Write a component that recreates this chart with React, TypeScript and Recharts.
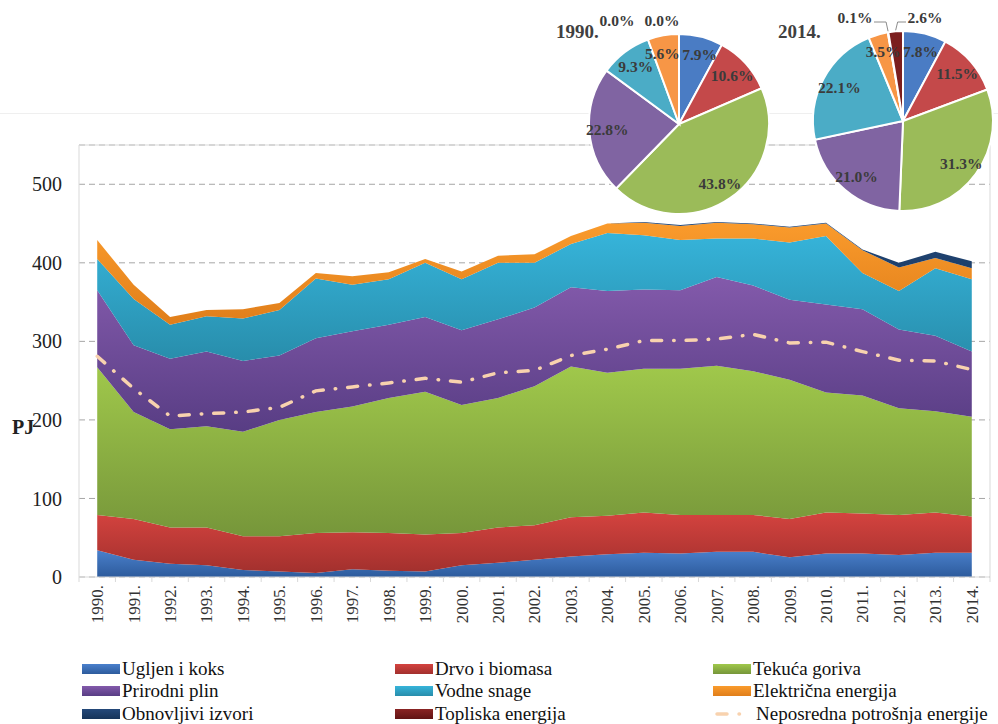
import React from "react";
import {
  ComposedChart,
  Area,
  Line,
  XAxis,
  YAxis,
  CartesianGrid,
  ReferenceLine,
  PieChart,
  Pie,
  Cell,
} from "recharts";

const years = [
  "1990.", "1991.", "1992.", "1993.", "1994.", "1995.", "1996.", "1997.", "1998.",
  "1999.", "2000.", "2001.", "2002.", "2003.", "2004.", "2005.", "2006.", "2007.",
  "2008.", "2009.", "2010.", "2011.", "2012.", "2013.", "2014.",
];

// PJ po izvoru
const ugljen = [34, 22, 17, 15, 9, 7, 5, 10, 8, 7, 15, 18, 22, 26, 29, 31, 30, 32, 32, 25, 30, 30, 28, 31, 31];
const drvo = [45, 52, 46, 48, 43, 45, 51, 47, 48, 47, 41, 45, 44, 50, 49, 51, 49, 47, 47, 49, 52, 51, 51, 51, 46];
const tekuca = [188, 136, 125, 129, 133, 148, 154, 160, 172, 182, 163, 165, 177, 192, 182, 183, 186, 190, 183, 177, 153, 150, 136, 129, 127];
const plin = [98, 85, 90, 95, 90, 82, 94, 96, 93, 95, 95, 100, 100, 101, 104, 101, 100, 113, 109, 102, 112, 110, 100, 96, 83];
const vodne = [40, 59, 43, 45, 54, 58, 76, 59, 58, 69, 65, 72, 57, 55, 74, 69, 64, 49, 60, 73, 87, 46, 49, 86, 92];
const elektricna = [24, 18, 10, 8, 12, 9, 7, 11, 9, 5, 10, 9, 11, 10, 12, 16, 18, 20, 18, 19, 16, 29, 30, 13, 14];
const obnovljivi = [0, 0, 0, 0, 0, 0, 0, 0, 0, 0, 0, 0, 0, 0, 0, 1, 1, 1, 1, 1, 1, 1, 6, 8, 9];
const topliska = [0, 0, 0, 0, 0, 0, 0, 0, 0, 0, 0, 0, 0, 0, 0, 0, 0, 0, 0, 0, 0, 0, 0, 0, 0];
const neposredna = [281, 240, 205, 208, 210, 216, 237, 242, 247, 253, 248, 260, 263, 282, 290, 301, 301, 303, 309, 298, 299, 287, 276, 275, 264];

const yTicks = [0, 100, 200, 300, 400, 500];

// udjeli (%) za pite
const pie1990 = [7.9, 10.6, 43.8, 22.8, 9.3, 5.6, 0.0, 0.0];
const pie2014 = [7.8, 11.5, 31.3, 21.0, 22.1, 3.5, 0.1, 2.6];

const series = [
  { key: "ugljen", name: "Ugljen i koks", top: "#4a80cc", bottom: "#2d5b9c" },
  { key: "drvo", name: "Drvo i biomasa", top: "#d4433f", bottom: "#a2302d" },
  { key: "tekuca", name: "Tekuća goriva", top: "#a0c84b", bottom: "#76963a" },
  { key: "plin", name: "Prirodni plin", top: "#835aab", bottom: "#583d84" },
  { key: "vodne", name: "Vodne snage", top: "#36b4da", bottom: "#288dab" },
  { key: "elektricna", name: "Električna energija", top: "#fa9b2c", bottom: "#e07e1a" },
  { key: "obnovljivi", name: "Obnovljivi izvori", top: "#24497a", bottom: "#163459" },
  { key: "topliska", name: "Topliska energija", top: "#8a2424", bottom: "#611414" },
];
const pieColors = ["#4a7cc4", "#c4494a", "#9bbb59", "#8064a2", "#4bacc6", "#f79646", "#1f497d", "#7b1e1e"];
const lineColor = "#f8d2ae";

const data = years.map((year, i) => ({
  year,
  ugljen: ugljen[i],
  drvo: drvo[i],
  tekuca: tekuca[i],
  plin: plin[i],
  vodne: vodne[i],
  elektricna: elektricna[i],
  obnovljivi: obnovljivi[i],
  topliska: topliska[i],
  neposredna: neposredna[i],
}));

const FONT = '"Liberation Serif", "Times New Roman", serif';
const BAND = 911 / 25;
const RAD = Math.PI / 180;

const YearTick = (props: any) => {
  const { x, y, payload, index } = props;
  const half = BAND / 2;
  return (
    <g>
      <line x1={x - half} x2={x - half} y1={y - 8} y2={y - 3} stroke="#d9d9d9" />
      {index === years.length - 1 && (
        <line x1={x + half} x2={x + half} y1={y - 8} y2={y - 3} stroke="#d9d9d9" />
      )}
      <text
        x={x}
        y={y}
        transform={`rotate(-90 ${x} ${y})`}
        textAnchor="end"
        dy="0.35em"
        fontFamily={FONT}
        fontSize={17}
        fill="#333"
      >
        {payload.value}
      </text>
    </g>
  );
};

// male kriske: natpis iznad pite (pomak po x); nudge: mali pomak natpisa unutar kriške
const makePieLabel = (outside: Record<number, number>, nudge: Record<number, number>, leader: boolean) => (props: any) => {
  const { cx, cy, midAngle, outerRadius, index, value } = props;
  const text = `${Number(value).toFixed(1)}%`;
  const style = { fontFamily: FONT, fontSize: 15.5, fontWeight: 700, fill: "#3b3b3b" };
  if (index in outside) {
    const lx = cx + outside[index];
    const ly = cy - outerRadius - 14;
    const px = cx + outerRadius * Math.cos(-midAngle * RAD);
    const py = cy + outerRadius * Math.sin(-midAngle * RAD);
    const edge = outside[index] < 0 ? lx + 19 : lx - 19;
    return (
      <g>
        {leader && (
          <polyline
            points={`${edge},${ly + 5} ${px + (outside[index] < 0 ? -2 : 2)},${ly + 5} ${px},${py - 1}`}
            fill="none"
            stroke="#8c8c8c"
            strokeWidth={1}
          />
        )}
        <text x={lx} y={ly} textAnchor="middle" dominantBaseline="central" {...style}>
          {text}
        </text>
      </g>
    );
  }
  const r = outerRadius * 0.8;
  const x = cx + r * Math.cos(-midAngle * RAD) + (nudge[index] || 0);
  const y = cy + r * Math.sin(-midAngle * RAD);
  return (
    <text x={x} y={y} textAnchor="middle" dominantBaseline="central" {...style}>
      {text}
    </text>
  );
};

const SharePie = ({ values, left, top, outside, nudge, leader }: any) => (
  <div style={{ position: "absolute", left, top }}>
    <PieChart width={240} height={230}>
      <Pie
        data={values.map((v: number, i: number) => ({ name: series[i].name, value: v }))}
        dataKey="value"
        cx={120}
        cy={125}
        outerRadius={90}
        startAngle={90}
        endAngle={-270}
        stroke="#ffffff"
        strokeWidth={2}
        labelLine={false}
        label={makePieLabel(outside, nudge, leader)}
        isAnimationActive={false}
      >
        {values.map((_: number, i: number) => (
          <Cell key={i} fill={pieColors[i]} />
        ))}
      </Pie>
    </PieChart>
  </div>
);

const legendCols = [82, 395, 713];
const legendRows = [669, 691, 714];

export default function App() {
  const legendItems = [
    ...series.map((s) => ({ name: s.name, top: s.top, bottom: s.bottom, line: false })),
    { name: "Neposredna potrošnja energije", top: lineColor, bottom: lineColor, line: true },
  ];
  return (
    <div
      style={{
        position: "absolute",
        left: 0,
        top: 0,
        width: 998,
        height: 724,
        overflow: "hidden",
        background: "#fff",
        fontFamily: FONT,
      }}
    >
      <div style={{ position: "absolute", left: 0, top: 113, width: 998, borderTop: "1px solid #efefef" }} />

      <div style={{ position: "absolute", left: 0, top: 0 }}>
        <ComposedChart width={998} height={724} data={data} margin={{ top: 145, right: 0, left: 19, bottom: 87 }}>
          <defs>
            {series.map((s) => (
              <linearGradient key={s.key} id={`g-${s.key}`} x1="0" y1="0" x2="0" y2="1">
                <stop offset="0%" stopColor={s.top} />
                <stop offset="100%" stopColor={s.bottom} />
              </linearGradient>
            ))}
          </defs>
          <CartesianGrid horizontal vertical={false} stroke="#a6a6a6" strokeDasharray="6 4" />
          <XAxis
            dataKey="year"
            interval={0}
            height={60}
            padding={{ left: BAND / 2, right: BAND / 2 }}
            axisLine={{ stroke: "#d9d9d9" }}
            tickLine={false}
            tickSize={0}
            tickMargin={8}
            tick={<YearTick />}
          />
          <YAxis
            width={60}
            domain={[0, 550]}
            ticks={yTicks}
            axisLine={{ stroke: "#d9d9d9" }}
            tickLine={false}
            tickSize={0}
            tickMargin={17}
            tick={{ fontFamily: FONT, fontSize: 20, fill: "#222" }}
          />
          <YAxis
            yAxisId="r"
            orientation="right"
            width={8}
            domain={[0, 550]}
            tick={false}
            tickLine={false}
            axisLine={{ stroke: "#d9d9d9" }}
          />
          <ReferenceLine y={550} stroke="#d9d9d9" />
          {series.map((s) => (
            <Area
              key={s.key}
              type="linear"
              dataKey={s.key}
              name={s.name}
              stackId="1"
              stroke="none"
              fill={`url(#g-${s.key})`}
              fillOpacity={1}
              isAnimationActive={false}
            />
          ))}
          <Line
            type="linear"
            dataKey="neposredna"
            name="Neposredna potrošnja energije"
            stroke={lineColor}
            strokeWidth={3.5}
            strokeDasharray="10 12 0.5 12"
            strokeLinecap="round"
            dot={false}
            isAnimationActive={false}
          />
        </ComposedChart>
      </div>

      <div style={{ position: "absolute", left: 12, top: 416, fontSize: 20, fontWeight: 700, color: "#222" }}>PJ</div>

      <SharePie values={pie1990} left={554} top={-6} outside={{ 6: -62, 7: -17 }} nudge={{ 0: 3, 5: -4 }} leader={false} />
      <SharePie values={pie2014} left={778} top={-9} outside={{ 6: -48, 7: 22 }} nudge={{}} leader />
      <div style={{ position: "absolute", left: 556, top: 21, fontSize: 19, fontWeight: 700, color: "#404040" }}>1990.</div>
      <div style={{ position: "absolute", left: 778, top: 21, fontSize: 19, fontWeight: 700, color: "#404040" }}>2014.</div>

      {legendItems.map((it, i) => {
        const x = legendCols[i % 3];
        const y = legendRows[Math.floor(i / 3)];
        return (
          <div
            key={it.name}
            style={{ position: "absolute", left: x, top: y - 12, height: 24, display: "flex", alignItems: "center", whiteSpace: "nowrap" }}
          >
            {it.line ? (
              <svg width={40} height={10} style={{ marginRight: 3 }}>
                <line x1={4} x2={14} y1={5} y2={5} stroke={lineColor} strokeWidth={3.5} strokeLinecap="round" />
                <line x1={26} x2={26.5} y1={5} y2={5} stroke={lineColor} strokeWidth={3.5} strokeLinecap="round" />
              </svg>
            ) : (
              <span
                style={{
                  display: "inline-block",
                  width: 38,
                  height: 10,
                  marginRight: 2,
                  background: `linear-gradient(${it.top}, ${it.bottom})`,
                }}
              />
            )}
            <span style={{ fontSize: 19, color: "#111" }}>{it.name}</span>
          </div>
        );
      })}
    </div>
  );
}
